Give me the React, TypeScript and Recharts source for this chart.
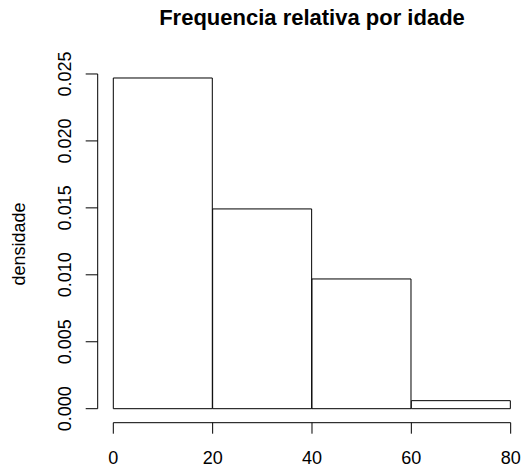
import { ComposedChart, Bar, XAxis, YAxis, ReferenceLine } from 'recharts'

const binMids = [10, 30, 50, 70]
const densidade = [0.0247, 0.01492, 0.00969, 0.0006]
const xTicks = [0, 20, 40, 60, 80]
const yTicks = [0, 0.005, 0.01, 0.015, 0.02, 0.025]

const data = binMids.map((idade, i) => ({ idade, densidade: densidade[i] }))

const FONT = 'Liberation Sans, Arial, Helvetica, sans-serif'

const YTick = (props: any) => {
  const { y, payload } = props
  return (
    <text
      transform={`translate(71, ${y}) rotate(-90)`}
      textAnchor="middle"
      fontSize={18}
      fontFamily={FONT}
      fill="#000"
    >
      {Number(payload.value).toFixed(3)}
    </text>
  )
}

const XTick = (props: any) => {
  const { x, payload } = props
  return (
    <text x={x} y={464} textAnchor="middle" fontSize={18} fontFamily={FONT} fill="#000">
      {payload.value}
    </text>
  )
}

export default function App() {
  const yMin = -0.001046
  return (
    <div style={{ position: 'absolute', left: 0, top: 0, width: 523, height: 467, background: '#fff' }}>
      <ComposedChart
        width={523}
        height={467}
        data={data}
        margin={{ top: 65, right: 0, bottom: 0, left: 0 }}
        barCategoryGap={0}
        barGap={0}
      >
        <text x={312} y={25} textAnchor="middle" fontSize={22} fontWeight="bold" fontFamily={FONT} fill="#000">
          Frequencia relativa por idade
        </text>
        <text
          transform="translate(25, 244) rotate(-90)"
          textAnchor="middle"
          fontSize={18}
          fontFamily={FONT}
          fill="#000"
        >
          densidade
        </text>
        <XAxis
          dataKey="idade"
          type="number"
          domain={[-3.14, 82.48]}
          allowDataOverflow
          ticks={xTicks}
          interval={0}
          axisLine={false}
          tickLine={{ stroke: '#000' }}
          tickSize={11}
          height={44.3}
          tick={<XTick />}
        />
        <YAxis
          type="number"
          domain={[yMin, 0.02567]}
          allowDataOverflow
          ticks={yTicks}
          interval={0}
          axisLine={false}
          tickLine={{ stroke: '#000' }}
          tickSize={12}
          width={97.7}
          tick={<YTick />}
        />
        <ReferenceLine
          segment={[{ x: 0, y: yMin }, { x: 80, y: yMin }]}
          stroke="#000"
          ifOverflow="visible"
        />
        <ReferenceLine
          segment={[{ x: -3.14, y: 0 }, { x: -3.14, y: 0.025 }]}
          stroke="#000"
          ifOverflow="visible"
        />
        <Bar dataKey="densidade" fill="#fff" stroke="#000" strokeWidth={1} isAnimationActive={false} />
      </ComposedChart>
    </div>
  )
}
